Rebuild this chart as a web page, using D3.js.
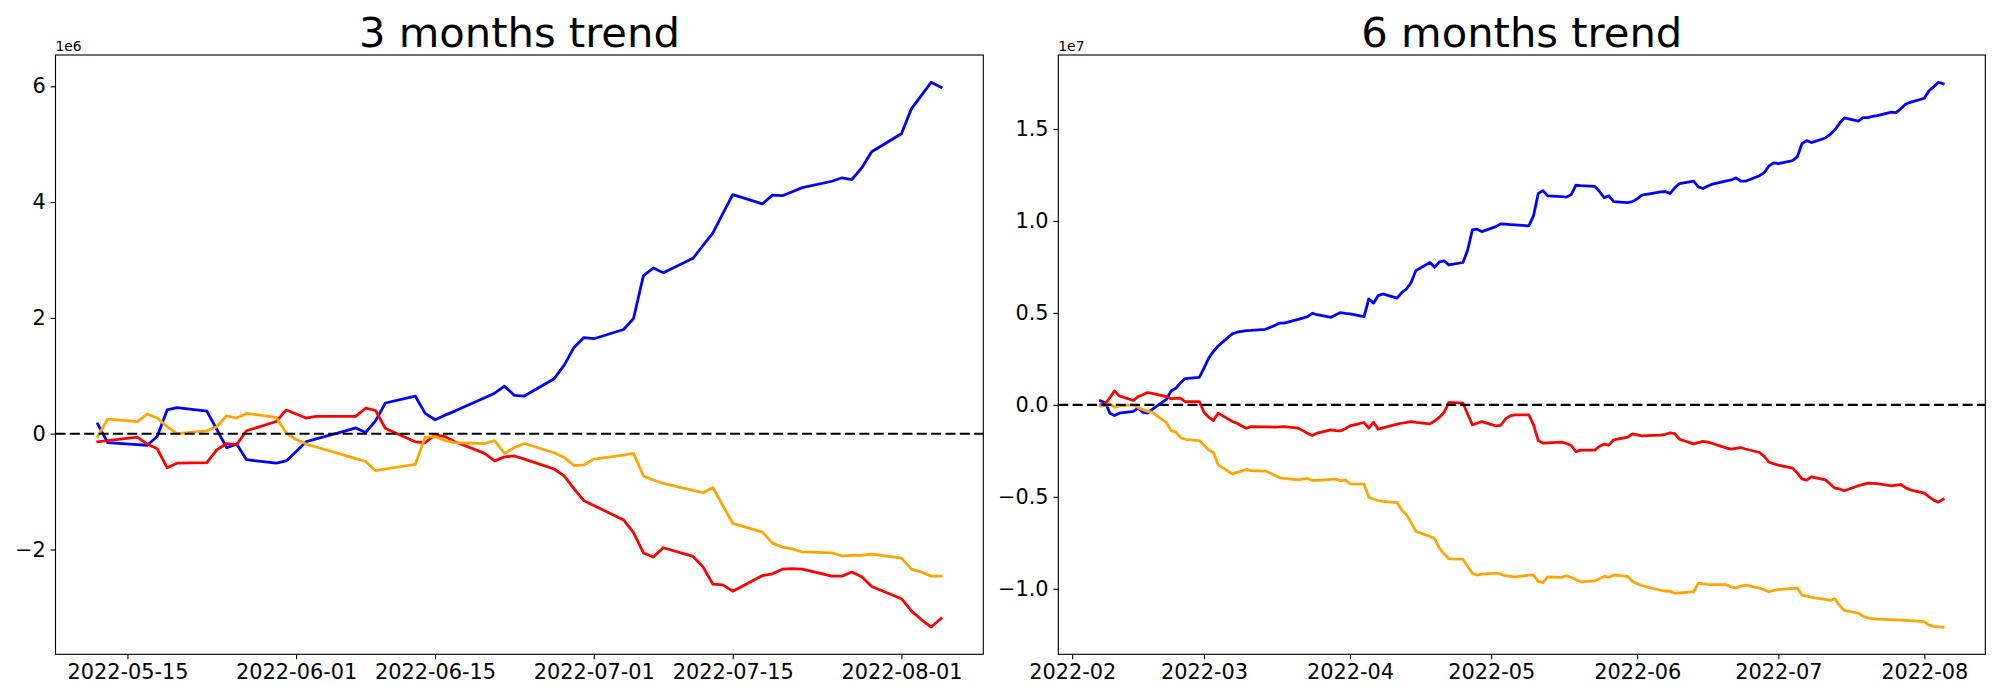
<!DOCTYPE html>
<html><head><meta charset="utf-8">
<script src="https://cdn.jsdelivr.net/npm/d3@7"></script>
<style>
body{margin:0;background:#fff;}
svg{display:block;}
text{font-family:"DejaVu Sans",sans-serif;}
</style>
</head><body>
<svg id="chart" width="2000" height="700"></svg>
<script>
// ---------- 3 months trend (values in units of 1e6) ----------
const dates3 = ["2022-05-12","2022-05-13","2022-05-16","2022-05-17","2022-05-18","2022-05-19","2022-05-20","2022-05-23","2022-05-24","2022-05-25","2022-05-26","2022-05-27","2022-05-30","2022-05-31",
"2022-06-01","2022-06-02","2022-06-03","2022-06-06","2022-06-07","2022-06-08","2022-06-09","2022-06-10","2022-06-13","2022-06-14","2022-06-15","2022-06-16","2022-06-17","2022-06-20","2022-06-21","2022-06-22","2022-06-23","2022-06-24","2022-06-27","2022-06-28","2022-06-29","2022-06-30",
"2022-07-01","2022-07-04","2022-07-05","2022-07-06","2022-07-07","2022-07-08","2022-07-11","2022-07-12","2022-07-13","2022-07-14","2022-07-15","2022-07-18","2022-07-19","2022-07-20","2022-07-21","2022-07-22","2022-07-25","2022-07-26","2022-07-27","2022-07-28","2022-07-29",
"2022-08-01","2022-08-02","2022-08-03","2022-08-04","2022-08-05"];
const blue3 = [0.17,-0.155,-0.19,-0.20,-0.05,0.41,0.45,0.39,0.075,-0.24,-0.18,-0.45,-0.51,-0.47,
-0.31,-0.14,-0.09,0.05,0.10,0.02,0.22,0.53,0.65,0.35,0.24,0.32,0.39,0.62,0.70,0.82,0.66,0.65,0.95,1.18,1.49,1.66,
1.64,1.80,1.99,2.73,2.86,2.78,3.03,3.25,3.47,3.80,4.13,3.97,4.12,4.11,4.18,4.25,4.36,4.42,4.39,4.59,4.87,
5.18,5.61,5.84,6.07,5.98];
const red3 = [-0.14,-0.12,-0.06,-0.18,-0.26,-0.59,-0.51,-0.50,-0.28,-0.17,-0.19,0.05,0.21,0.41,
0.34,0.27,0.30,0.30,0.30,0.44,0.40,0.09,-0.14,-0.155,-0.02,-0.05,-0.14,-0.34,-0.47,-0.40,-0.385,-0.44,-0.61,-0.73,-0.95,-1.16,
-1.24,-1.49,-1.71,-2.06,-2.13,-1.97,-2.12,-2.30,-2.60,-2.61,-2.72,-2.45,-2.42,-2.34,-2.33,-2.34,-2.46,-2.46,-2.39,-2.47,-2.64,
-2.85,-3.06,-3.21,-3.34,-3.19];
const orange3 = [-0.05,0.25,0.21,0.34,0.27,0.12,0.00,0.05,0.12,0.31,0.27,0.35,0.28,0.01,
-0.10,-0.18,-0.23,-0.38,-0.43,-0.48,-0.64,-0.61,-0.53,-0.06,-0.05,-0.12,-0.155,-0.17,-0.12,-0.34,-0.24,-0.17,-0.33,-0.41,-0.55,-0.54,
-0.44,-0.37,-0.34,-0.73,-0.80,-0.86,-0.98,-1.02,-0.93,-1.24,-1.55,-1.70,-1.89,-1.96,-1.99,-2.04,-2.06,-2.11,-2.10,-2.10,-2.08,
-2.15,-2.34,-2.39,-2.46,-2.46];
const xTicks3 = ["2022-05-15","2022-06-01","2022-06-15","2022-07-01","2022-07-15","2022-08-01"];
const xTickLabels3 = ["2022-05-15","2022-06-01","2022-06-15","2022-07-01","2022-07-15","2022-08-01"];
const yTicks3 = [-2,0,2,4,6];

// ---------- 6 months trend (values in units of 1e7) ----------
const dates6 = [
"2022-02-07","2022-02-08","2022-02-09","2022-02-10","2022-02-11","2022-02-14","2022-02-15","2022-02-16","2022-02-17","2022-02-18","2022-02-21","2022-02-22","2022-02-23","2022-02-24","2022-02-25","2022-02-28",
"2022-03-01","2022-03-02","2022-03-03","2022-03-04","2022-03-07","2022-03-08","2022-03-09","2022-03-10","2022-03-11","2022-03-14","2022-03-15","2022-03-16","2022-03-17","2022-03-18","2022-03-21","2022-03-22","2022-03-23","2022-03-24","2022-03-25","2022-03-28","2022-03-29","2022-03-30","2022-03-31",
"2022-04-01","2022-04-04","2022-04-05","2022-04-06","2022-04-07","2022-04-08","2022-04-11","2022-04-12","2022-04-13","2022-04-14","2022-04-15","2022-04-18","2022-04-19","2022-04-20","2022-04-21","2022-04-22","2022-04-25","2022-04-26","2022-04-27","2022-04-28","2022-04-29",
"2022-05-02","2022-05-03","2022-05-04","2022-05-05","2022-05-06","2022-05-09","2022-05-10","2022-05-11","2022-05-12","2022-05-13","2022-05-16","2022-05-17","2022-05-18","2022-05-19","2022-05-20","2022-05-23","2022-05-24","2022-05-25","2022-05-26","2022-05-27","2022-05-30","2022-05-31",
"2022-06-01","2022-06-02","2022-06-03","2022-06-06","2022-06-07","2022-06-08","2022-06-09","2022-06-10","2022-06-13","2022-06-14","2022-06-15","2022-06-16","2022-06-17","2022-06-20","2022-06-21","2022-06-22","2022-06-23","2022-06-24","2022-06-27","2022-06-28","2022-06-29","2022-06-30",
"2022-07-01","2022-07-04","2022-07-05","2022-07-06","2022-07-07","2022-07-08","2022-07-11","2022-07-12","2022-07-13","2022-07-14","2022-07-15","2022-07-18","2022-07-19","2022-07-20","2022-07-21","2022-07-22","2022-07-25","2022-07-26","2022-07-27","2022-07-28","2022-07-29",
"2022-08-01","2022-08-02","2022-08-03","2022-08-04","2022-08-05"];
const blue6 = [
0.022,0.013,-0.045,-0.058,-0.045,-0.036,-0.018,-0.040,-0.045,-0.025,0.030,0.075,0.090,0.120,0.143,0.149,
0.200,0.254,0.290,0.320,0.386,0.395,0.400,0.404,0.405,0.411,0.420,0.432,0.444,0.444,0.465,0.472,0.480,0.498,0.490,0.476,0.490,0.502,0.498,
0.495,0.480,0.576,0.553,0.594,0.603,0.580,0.610,0.630,0.665,0.730,0.774,0.748,0.777,0.783,0.761,0.774,0.842,0.951,0.955,0.942,
0.969,0.984,0.982,0.980,0.978,0.973,1.029,1.150,1.165,1.136,1.132,1.130,1.143,1.194,1.192,1.188,1.160,1.127,1.136,1.105,1.100,1.105,
1.120,1.140,1.145,1.158,1.160,1.150,1.180,1.203,1.216,1.185,1.176,1.190,1.200,1.218,1.223,1.234,1.216,1.216,1.246,1.263,1.299,1.315,
1.312,1.328,1.348,1.420,1.437,1.426,1.451,1.470,1.495,1.530,1.560,1.543,1.562,1.562,1.568,1.572,1.591,1.589,1.610,1.634,1.645,
1.667,1.708,1.730,1.754,1.745];
const red6 = [
0.000,0.005,0.040,0.076,0.049,0.024,0.045,0.055,0.067,0.063,0.045,0.033,0.035,0.036,0.018,0.018,
-0.040,-0.067,-0.085,-0.045,-0.090,-0.100,-0.115,-0.127,-0.118,-0.120,-0.120,-0.121,-0.120,-0.118,-0.127,-0.140,-0.155,-0.167,-0.154,-0.136,-0.140,-0.141,-0.130,
-0.114,-0.096,-0.127,-0.094,-0.132,-0.125,-0.105,-0.100,-0.095,-0.091,-0.095,-0.103,-0.088,-0.067,-0.040,0.014,0.009,-0.050,-0.109,-0.100,-0.091,
-0.114,-0.112,-0.078,-0.060,-0.054,-0.054,-0.109,-0.194,-0.208,-0.207,-0.203,-0.210,-0.221,-0.254,-0.246,-0.246,-0.225,-0.214,-0.219,-0.190,-0.176,-0.158,
-0.163,-0.168,-0.167,-0.165,-0.160,-0.152,-0.156,-0.187,-0.212,-0.205,-0.199,-0.203,-0.210,-0.235,-0.241,-0.236,-0.232,-0.240,-0.259,-0.280,-0.312,-0.320,
-0.328,-0.344,-0.370,-0.402,-0.409,-0.391,-0.408,-0.430,-0.453,-0.457,-0.467,-0.440,-0.432,-0.426,-0.427,-0.428,-0.440,-0.436,-0.433,-0.450,-0.462,
-0.480,-0.500,-0.518,-0.529,-0.513];
const orange6 = [
-0.005,-0.005,0.005,-0.013,-0.005,0.000,-0.015,-0.026,-0.036,-0.040,-0.096,-0.140,-0.147,-0.178,-0.187,-0.194,
-0.220,-0.245,-0.259,-0.326,-0.375,-0.367,-0.360,-0.351,-0.357,-0.360,-0.370,-0.383,-0.395,-0.400,-0.408,-0.404,-0.400,-0.411,-0.410,-0.405,-0.404,-0.413,-0.408,
-0.429,-0.431,-0.502,-0.513,-0.520,-0.525,-0.531,-0.571,-0.598,-0.640,-0.688,-0.716,-0.728,-0.779,-0.810,-0.837,-0.839,-0.879,-0.915,-0.926,-0.920,
-0.915,-0.920,-0.929,-0.932,-0.935,-0.926,-0.926,-0.960,-0.966,-0.935,-0.938,-0.929,-0.937,-0.950,-0.962,-0.957,-0.945,-0.933,-0.937,-0.926,-0.933,-0.960,
-0.972,-0.982,-0.990,-1.008,-1.012,-1.014,-1.024,-1.022,-1.016,-0.969,-0.973,-0.976,-0.977,-0.978,-0.990,-0.996,-0.985,-0.980,-0.996,-1.006,-1.016,-1.008,
-1.005,-0.998,-0.996,-1.034,-1.040,-1.046,-1.058,-1.063,-1.054,-1.090,-1.118,-1.132,-1.150,-1.158,-1.162,-1.165,-1.168,-1.169,-1.170,-1.171,-1.173,
-1.179,-1.197,-1.204,-1.207,-1.208];
const xTicks6 = ["2022-02-01","2022-03-01","2022-04-01","2022-05-01","2022-06-01","2022-07-01","2022-08-01"];
const xTickLabels6 = ["2022-02","2022-03","2022-04","2022-05","2022-06","2022-07","2022-08"];
const yTicks6 = [-1.0,-0.5,0.0,0.5,1.0,1.5];

const seriesColors = ["blue","red","orange"];

// ---------- drawing ----------
const svg = d3.select("#chart");
svg.append("rect").attr("width",2000).attr("height",700).attr("fill","#fff");
const parse = d3.utcParse("%Y-%m-%d");
const PX = 100/72; // points -> pixels at 100 dpi

const panels = [
  {title:"3 months trend", offset:"1e6", dates:dates3, series:[blue3,red3,orange3],
   xTicks:xTicks3, xLabels:xTickLabels3, yTicks:yTicks3, yFmt:d3.format("d"),
   left:55.5, right:983.3},
  {title:"6 months trend", offset:"1e7", dates:dates6, series:[blue6,red6,orange6],
   xTicks:xTicks6, xLabels:xTickLabels6, yTicks:yTicks6, yFmt:d3.format(".1f"),
   left:1058.3, right:1985.3}
];
const axTop = 55, axBottom = 654.3;

panels.forEach(p => {
  const ds = p.dates.map(parse);
  const t0 = ds[0].getTime(), t1 = ds[ds.length-1].getTime();
  const tpad = (t1 - t0) * 0.05;
  const x = d3.scaleUtc().domain([new Date(t0 - tpad), new Date(t1 + tpad)]).range([p.left, p.right]);
  const allV = p.series.flat();
  const vmin = d3.min(allV), vmax = d3.max(allV);
  const vpad = (vmax - vmin) * 0.05;
  const y = d3.scaleLinear().domain([vmin - vpad, vmax + vpad]).range([axBottom, axTop]);

  const g = svg.append("g");

  // lines
  const line = d3.line().x((v,i) => x(ds[i])).y(v => y(v));
  p.series.forEach((vals, k) => {
    g.append("path").datum(vals).attr("d", line)
      .attr("fill","none").attr("stroke", seriesColors[k])
      .attr("stroke-width", 2*PX).attr("stroke-linejoin","round").attr("stroke-linecap","square");
  });

  // zero line
  g.append("line").attr("x1", p.left).attr("x2", p.right)
    .attr("y1", y(0)).attr("y2", y(0))
    .attr("stroke","black").attr("stroke-width", 1.5*PX)
    .attr("stroke-dasharray", `${3.7*1.5*PX*1.3} ${1.6*1.5*PX*1.3}`);

  // frame
  g.append("rect").attr("x", p.left).attr("y", axTop)
    .attr("width", p.right - p.left).attr("height", axBottom - axTop)
    .attr("fill","none").attr("stroke","black").attr("stroke-width", 0.8*PX);

  // x axis
  const xa = d3.axisBottom(x).tickValues(p.xTicks.map(parse))
    .tickFormat((d,i) => p.xLabels[i]).tickSize(3.5*PX).tickPadding(3.5*PX).tickSizeOuter(0);
  const gx = g.append("g").attr("transform", `translate(0,${axBottom})`).call(xa);
  gx.select(".domain").remove();
  gx.selectAll(".tick line").attr("stroke","black").attr("stroke-width",0.8*PX);
  gx.selectAll(".tick text").attr("font-size", 15*PX).attr("font-family","DejaVu Sans").attr("fill","black");

  // y axis
  const ya = d3.axisLeft(y).tickValues(p.yTicks).tickFormat(p.yFmt)
    .tickSize(3.5*PX).tickPadding(3.5*PX).tickSizeOuter(0);
  const gy = g.append("g").attr("transform", `translate(${p.left},0)`).call(ya);
  gy.select(".domain").remove();
  gy.selectAll(".tick line").attr("stroke","black").attr("stroke-width",0.8*PX);
  gy.selectAll(".tick text").attr("font-size", 15*PX).attr("font-family","DejaVu Sans").attr("fill","black");

  // offset text
  g.append("text").attr("x", p.left).attr("y", axTop - 4.5)
    .attr("font-size", 10*PX).attr("fill","black").text(p.offset);

  // title
  g.append("text").attr("x", (p.left + p.right)/2).attr("y", axTop - 6*PX)
    .attr("text-anchor","middle").attr("font-size", 30*PX).attr("fill","black").text(p.title);
});
</script>
</body></html>
